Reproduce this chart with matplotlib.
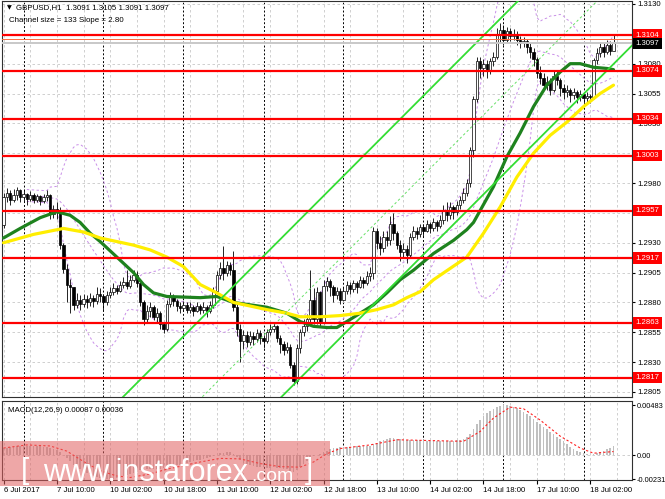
import numpy as np
import pandas as pd
import matplotlib
matplotlib.use("Agg")
import matplotlib.pyplot as plt
from matplotlib.patches import Rectangle
from matplotlib.transforms import blended_transform_factory

plt.rcParams['font.family'] = ['Liberation Sans', 'DejaVu Sans']

# -------------------------------
# GBPUSD H1, bars from 6 Jul 18:00 to 18 Jul 09:00 (8 bars per row)
# -------------------------------
first_open = 1.2945
closes = [
    1.2968, 1.2972, 1.2966, 1.2970, 1.2974, 1.2968, 1.2971, 1.2967,
    1.2970, 1.2966, 1.2969, 1.2965, 1.2968, 1.2970, 1.2954, 1.2958,
    1.2957, 1.2928, 1.2908, 1.2895, 1.2893, 1.2878, 1.2882, 1.2879,
    1.2883, 1.2880, 1.2884, 1.2881, 1.2887, 1.2885, 1.2880, 1.2886,
    1.2889, 1.2892, 1.2890, 1.2895, 1.2897, 1.2894, 1.2899, 1.2903,
    1.2896, 1.2880, 1.2866, 1.2873, 1.2876, 1.2868, 1.2871, 1.2862,
    1.2858, 1.2879, 1.2885, 1.2881, 1.2877, 1.2875, 1.2878, 1.2874,
    1.2876, 1.2873, 1.2877, 1.2874, 1.2876, 1.2873, 1.2878, 1.2890,
    1.2903, 1.2909, 1.2905, 1.2911, 1.2907, 1.2876, 1.2858, 1.2848,
    1.2853, 1.2847, 1.2852, 1.2849, 1.2854, 1.2850, 1.2848, 1.2855,
    1.2858, 1.2860, 1.2850, 1.2845, 1.2840, 1.2843, 1.2828, 1.2814,
    1.2842, 1.2855, 1.2860, 1.2866, 1.2882, 1.2866, 1.2889, 1.2864,
    1.2894, 1.2898, 1.2893, 1.2886, 1.2890, 1.2882, 1.2890, 1.2895,
    1.2891, 1.2896, 1.2893, 1.2899, 1.2896, 1.2902, 1.2905, 1.2940,
    1.2930, 1.2926, 1.2935, 1.2932, 1.2946, 1.2938, 1.2928, 1.2922,
    1.2925, 1.2920, 1.2935, 1.2940, 1.2937, 1.2943, 1.2940, 1.2946,
    1.2942, 1.2947, 1.2944, 1.2949, 1.2957, 1.2953, 1.2960, 1.2956,
    1.2962, 1.2966, 1.2972, 1.2980, 1.3008, 1.3050, 1.3082, 1.3076,
    1.3080, 1.3074, 1.3082, 1.3086, 1.3105, 1.3108, 1.3100, 1.3107,
    1.3103, 1.3105, 1.3100, 1.3097, 1.3099, 1.3094, 1.3090, 1.3084,
    1.3072, 1.3068, 1.3062, 1.3065, 1.3058, 1.3070, 1.3066, 1.3060,
    1.3056, 1.3058, 1.3054, 1.3056, 1.3052, 1.3055, 1.3051, 1.3053,
    1.3052, 1.3083, 1.3089, 1.3094, 1.3090, 1.3096, 1.3091, 1.3097,
]
highs = [
    1.2972, 1.2976, 1.2974, 1.2975, 1.2977, 1.2975, 1.2974, 1.2972,
    1.2973, 1.2972, 1.2971, 1.2970, 1.2971, 1.2974, 1.2971, 1.2962,
    1.2964, 1.2960, 1.2930, 1.2912, 1.2900, 1.2892, 1.2888, 1.2886,
    1.2887, 1.2886, 1.2888, 1.2886, 1.2893, 1.2892, 1.2887, 1.2890,
    1.2893, 1.2896, 1.2895, 1.2898, 1.2901, 1.2907, 1.2903, 1.2907,
    1.2906, 1.2898, 1.2882, 1.2878, 1.2880, 1.2878, 1.2875, 1.2873,
    1.2864, 1.2882, 1.2889, 1.2887, 1.2883, 1.2880, 1.2881, 1.2880,
    1.2880, 1.2878, 1.2880, 1.2879, 1.2880, 1.2878, 1.2881, 1.2893,
    1.2906, 1.2914, 1.2927, 1.2915, 1.2914, 1.2923, 1.2880, 1.2862,
    1.2857, 1.2856, 1.2856, 1.2855, 1.2858, 1.2857, 1.2853, 1.2858,
    1.2862, 1.2864, 1.2861, 1.2853, 1.2848, 1.2847, 1.2845, 1.2830,
    1.2845, 1.2858, 1.2866, 1.2870, 1.2907, 1.2892, 1.2893, 1.2890,
    1.2899, 1.2901, 1.2900, 1.2895, 1.2893, 1.2892, 1.2893, 1.2898,
    1.2897, 1.2899, 1.2898, 1.2902, 1.2901, 1.2906, 1.2910, 1.2943,
    1.2942, 1.2936, 1.2940, 1.2940, 1.2952, 1.2955, 1.2940, 1.2932,
    1.2930, 1.2928, 1.2938, 1.2944, 1.2943, 1.2946, 1.2946, 1.2949,
    1.2947, 1.2951, 1.2949, 1.2953, 1.2962, 1.2964, 1.2964, 1.2962,
    1.2965, 1.2969, 1.2976, 1.2983, 1.3010, 1.3053, 1.3086, 1.3086,
    1.3084, 1.3083, 1.3085, 1.3090, 1.3110, 1.3114, 1.3112, 1.3111,
    1.3110, 1.3109, 1.3107, 1.3103, 1.3102, 1.3101, 1.3097, 1.3093,
    1.3086, 1.3078, 1.3072, 1.3070, 1.3068, 1.3074, 1.3075, 1.3068,
    1.3063, 1.3062, 1.3060, 1.3060, 1.3058, 1.3058, 1.3056, 1.3056,
    1.3055, 1.3085, 1.3093, 1.3098, 1.3097, 1.3100, 1.3099, 1.3105,
]
lows = [
    1.2942, 1.2964, 1.2962, 1.2964, 1.2966, 1.2964, 1.2965, 1.2962,
    1.2965, 1.2963, 1.2964, 1.2962, 1.2963, 1.2965, 1.2950, 1.2951,
    1.2950, 1.2925, 1.2905, 1.2880, 1.2871, 1.2874, 1.2875, 1.2874,
    1.2876, 1.2875, 1.2877, 1.2876, 1.2879, 1.2880, 1.2874, 1.2878,
    1.2884, 1.2886, 1.2887, 1.2889, 1.2892, 1.2891, 1.2892, 1.2897,
    1.2893, 1.2877, 1.2861, 1.2863, 1.2868, 1.2865, 1.2864, 1.2858,
    1.2854, 1.2856, 1.2876, 1.2877, 1.2873, 1.2871, 1.2873, 1.2871,
    1.2871, 1.2869, 1.2872, 1.2870, 1.2871, 1.2868, 1.2871, 1.2875,
    1.2888, 1.2900, 1.2899, 1.2902, 1.2903, 1.2873, 1.2852, 1.2830,
    1.2841, 1.2843, 1.2844, 1.2844, 1.2847, 1.2845, 1.2842, 1.2846,
    1.2853, 1.2855, 1.2847, 1.2838, 1.2836, 1.2838, 1.2825, 1.2811,
    1.2812, 1.2838, 1.2852, 1.2856, 1.2863, 1.2862, 1.2862, 1.2860,
    1.2862, 1.2890, 1.2885, 1.2880, 1.2883, 1.2879, 1.2881, 1.2887,
    1.2887, 1.2889, 1.2888, 1.2892, 1.2892, 1.2895, 1.2898, 1.2900,
    1.2925, 1.2920, 1.2922, 1.2927, 1.2928, 1.2932, 1.2925, 1.2915,
    1.2918, 1.2913, 1.2918, 1.2932, 1.2933, 1.2935, 1.2935, 1.2939,
    1.2938, 1.2940, 1.2940, 1.2942, 1.2946, 1.2948, 1.2950, 1.2950,
    1.2953, 1.2958, 1.2963, 1.2969, 1.2977, 1.3002, 1.3048, 1.3068,
    1.3070, 1.3068, 1.3071, 1.3078, 1.3084, 1.3098, 1.3096, 1.3098,
    1.3099, 1.3100, 1.3096, 1.3093, 1.3094, 1.3089, 1.3085, 1.3078,
    1.3068, 1.3063, 1.3058, 1.3058, 1.3054, 1.3056, 1.3062, 1.3053,
    1.3050, 1.3052, 1.3048, 1.3050, 1.3047, 1.3049, 1.3046, 1.3048,
    1.3047, 1.3050, 1.3080, 1.3086, 1.3086, 1.3088, 1.3087, 1.3091,
]
# H1 forex bars open at the previous close
opens = [first_open] + closes[:-1]

# moving averages (bar index, price)
green_bars = [0, 5, 11, 16, 20, 23, 26, 29, 34, 39, 42, 45, 49, 59, 64, 69, 79, 85, 89,
              93, 97, 100, 103, 107, 111, 115, 119, 123, 129, 135, 139, 141, 143, 147,
              151, 155, 159, 163, 167, 170, 173, 177, 181, 183]
green_ma = [1.2934, 1.2942, 1.2951, 1.2956, 1.2953, 1.2947, 1.2938, 1.2931, 1.2918, 1.2905,
            1.2895, 1.2888, 1.2885, 1.2884, 1.2885, 1.2880, 1.2876, 1.2871, 1.2864,
            1.2860, 1.2859, 1.2859, 1.2864, 1.2871, 1.2878, 1.2888, 1.2899, 1.2907,
            1.2921, 1.2932, 1.2941, 1.2947, 1.2957, 1.2977, 1.3002, 1.3022, 1.3044,
            1.3062, 1.3073, 1.3080, 1.3080, 1.3077, 1.3076, 1.3075]
yellow_bars = [0, 9, 18, 24, 29, 39, 44, 49, 54, 59, 64, 69, 74, 79, 85, 89, 95, 101, 107,
               112, 117, 121, 125, 129, 139, 144, 149, 154, 159, 164, 169, 174, 179, 183]
yellow_ma = [1.2930, 1.2937, 1.2942, 1.2939, 1.2934, 1.2928, 1.2924, 1.2918, 1.2910,
             1.2895, 1.2888, 1.2880, 1.2877, 1.2874, 1.2871, 1.2868, 1.2868, 1.2869,
             1.2871, 1.2874, 1.2878, 1.2884, 1.2889, 1.2899, 1.2918, 1.2938, 1.2960,
             1.2985, 1.3005, 1.3020, 1.3031, 1.3044, 1.3055, 1.3062]

# regression channel: size 133 pips, slope 2.80 pips per bar
channel_bars = [0, 189]
channel_mid = [1.2634, 1.3163]
channel_half = 0.00665

levels = [1.3104, 1.3074, 1.3034, 1.3003, 1.2957, 1.2917, 1.2863, 1.2817]
bid = 1.3097
price_ticks = [1.2805, 1.2830, 1.2855, 1.2880, 1.2905, 1.2930, 1.2955, 1.2980,
               1.3005, 1.3030, 1.3055, 1.3080, 1.3105, 1.3130]
# these tick labels sit fully under a level box on the chart
hidden_ticks = [1.2955, 1.3005, 1.3105]

# MACD main (x 1e-5), one value per bar
macd_main = [
    70, 75, 80, 84, 87, 89, 90, 90,
    90, 89, 87, 85, 83, 80, 75, 65,
    50, 30, 5, -30, -60, -90, -115, -135,
    -155, -170, -185, -196, -206, -215, -222, -228,
    -231, -228, -222, -215, -205, -195, -183, -170,
    -157, -147, -141, -137, -135, -133, -131, -129,
    -126, -121, -113, -106, -98, -90, -82, -74,
    -66, -58, -50, -42, -35, -28, -20, -10,
    5, 18, 25, 30, 28, 15, -15, -45,
    -70, -85, -95, -104, -110, -115, -118, -120,
    -120, -118, -120, -124, -128, -135, -148, -160,
    -140, -112, -85, -58, -30, -10, 5, 15,
    30, 45, 60, 70, 75, 78, 80, 82,
    84, 85, 86, 87, 87, 87, 88, 105,
    120, 135, 150, 160, 167, 167, 162, 155,
    150, 148, 148, 147, 146, 145, 143, 140,
    138, 137, 136, 135, 135, 136, 138, 140,
    145, 150, 160, 175, 205, 250, 300, 340,
    375, 405, 430, 450, 465, 475, 483, 483,
    478, 468, 455, 440, 420, 398, 375, 350,
    325, 300, 275, 250, 228, 205, 180, 160,
    138, 105, 80, 60, 45, 30, 18, 10,
    3, 12, 25, 35, 45, 60, 75, 87,
]
signal_bars = [0, 7, 14, 19, 24, 29, 34, 38, 44, 49, 59, 65, 71, 77, 83, 89, 93, 97, 101,
               110, 118, 128, 138, 143, 147, 152, 156, 161, 167, 173, 177, 183]
signal_vals = [70, 100, 90, 40, -60, -150, -200, -215, -180, -135, -65, -30, -35, -80,
               -110, -115, -65, 15, 65, 100, 150, 142, 135, 230, 360, 465, 450, 340,
               185, 70, 20, 36]

date_ticks = list(range(0, 177, 16))
date_labels = ["6 Jul 2017", "7 Jul 10:00", "10 Jul 02:00", "10 Jul 18:00", "11 Jul 10:00",
               "12 Jul 02:00", "12 Jul 18:00", "13 Jul 10:00", "14 Jul 02:00",
               "14 Jul 18:00", "17 Jul 10:00", "18 Jul 02:00"]
day_starts = list(range(6, 184, 24))

# -------------------------------
# Figure
# -------------------------------
W, H = 665, 499
fig = plt.figure(figsize=(W / 100, H / 100), dpi=100)
ax = fig.add_axes([2 / W, 1 - 397 / H, 630 / W, 396 / H])
ax2 = fig.add_axes([2 / W, 1 - 480 / H, 630 / W, 79 / H])

xlim = (-0.45, 188.55)
grid_kw = dict(color='#c8c8c8', lw=0.6, dashes=(3, 3), zorder=0)
sep_kw = dict(color='black', lw=0.7, dashes=(2, 2), zorder=0)
for a in (ax, ax2):
    a.set_xlim(*xlim)
    for b in range(0, 189, 8):
        a.axvline(b, **grid_kw)
    for b in day_starts:
        a.axvline(b, **sep_kw)
    for s in a.spines.values():
        s.set_color('#303030')
        s.set_linewidth(0.8)

# main panel
ax.set_ylim(1.28008, 1.31325)
for p in price_ticks:
    ax.axhline(p, **grid_kw)

x = np.arange(len(closes))
o = np.array(opens)
c = np.array(closes)
body_lo = np.minimum(o, c)
body_hi = np.maximum(o, c)
wick_lo = np.minimum(np.array(lows), body_lo)
wick_hi = np.maximum(np.array(highs), body_hi)
height = np.maximum(body_hi - body_lo, 0.00002)
up = c >= o
ax.vlines(x, wick_lo, wick_hi, color='black', lw=0.6, zorder=3)
ax.bar(x[up], height[up], bottom=body_lo[up], width=0.62, color='white',
       edgecolor='black', lw=0.5, zorder=3.5)
ax.bar(x[~up], height[~up], bottom=body_lo[~up], width=0.62, color='black',
       edgecolor='black', lw=0.5, zorder=3.5)

# bollinger bands (20, 2) on the closes
cs = pd.Series(closes)
bb_mid = cs.rolling(20, min_periods=8).mean()
bb_sd = cs.rolling(20, min_periods=8).std(ddof=0)
for band in (bb_mid, bb_mid + 2 * bb_sd, bb_mid - 2 * bb_sd):
    ax.plot(x, band, color='#c98fe8', lw=0.7, dashes=(2.5, 2.5), zorder=2)

ax.plot(green_bars, green_ma, color='#1e821e', lw=2.3, zorder=4, solid_capstyle='round')
ax.plot(yellow_bars, yellow_ma, color='#ffee00', lw=2.3, zorder=4, solid_capstyle='round')

cm = np.array(channel_mid)
ax.plot(channel_bars, cm + channel_half, color='#33dd33', lw=1.3, zorder=4)
ax.plot(channel_bars, cm - channel_half, color='#33dd33', lw=1.3, zorder=4)
ax.plot(channel_bars, cm, color='#66e066', lw=0.7, dashes=(2.5, 2.5), zorder=4)

for lvl in levels:
    ax.axhline(lvl, color='#ff0000', lw=1.6, zorder=5)
ax.axhline(bid, color='#c8c8c8', lw=1.4, zorder=4.5)
ax.axhline(1.31004, color='#ff6a3d', lw=0.7, zorder=4.5)

ax.yaxis.tick_right()
ax.set_yticks(price_ticks)
ax.set_yticklabels(["" if p in hidden_ticks else f"{p:.4f}" for p in price_ticks])
ax.tick_params(axis='y', length=2, pad=2, labelsize=5.6, colors='black')
ax.tick_params(axis='x', bottom=False, labelbottom=False)

tr = blended_transform_factory(ax.transAxes, ax.transData)
for lvl in levels:
    ax.text(1.006, lvl, f"{lvl:.4f}", transform=tr, color='white', fontsize=5.6,
            va='center', ha='left', clip_on=False, zorder=10,
            bbox=dict(boxstyle='square,pad=0.3', fc='#ff0000', ec='none'))
ax.text(1.006, bid, f"{bid:.4f}", transform=tr, color='white', fontsize=5.6,
        va='center', ha='left', clip_on=False, zorder=10,
        bbox=dict(boxstyle='square,pad=0.3', fc='black', ec='none'))

ax.text(5 / 630, 1 - 7 / 396, "\u25bc", transform=ax.transAxes, fontsize=4.5,
        va='center', ha='left', family=['DejaVu Sans'])
ax.text(14 / 630, 1 - 7 / 396, "GBPUSD,H1  1.3091 1.3105 1.3091 1.3097",
        transform=ax.transAxes, fontsize=5.7, va='center', ha='left')
ax.text(7 / 630, 1 - 19 / 396, "Channel size = 133 Slope = 2.80",
        transform=ax.transAxes, fontsize=5.7, va='center', ha='left')

# MACD panel
ax2.set_ylim(-0.00239, 0.005245)
ax2.axhline(0, **grid_kw)
ax2.bar(x, np.array(macd_main) * 1e-5, width=0.55, color='#c0c0c0', zorder=2)
ax2.plot(signal_bars, np.array(signal_vals) * 1e-5, color='#ff2020', lw=0.8,
         dashes=(2, 2), zorder=3)
ax2.yaxis.tick_right()
ax2.set_yticks([-0.00231, 0.0, 0.00483])
ax2.set_yticklabels(["-0.00231", "0.00", "0.00483"])
ax2.tick_params(axis='y', length=2, pad=1.2, labelsize=5.3)
ax2.set_xticks(date_ticks)
ax2.set_xticklabels(date_labels, ha='left')
ax2.tick_params(axis='x', length=3, pad=2, labelsize=5.6)
ax2.text(6 / 630, 1 - 9 / 79, "MACD(12,26,9) 0.00087 0.00036", transform=ax2.transAxes,
         fontsize=5.7, va='center', ha='left')

# watermark
fig.patches.append(Rectangle((0, 1 - 486 / H), 330 / W, 45 / H, transform=fig.transFigure,
                             fc='#e06060', ec='none', alpha=0.55, zorder=5))
base = 1 - 481 / H
fig.text(21 / W, base + 2 / H, "[", color='white', fontsize=21, va='baseline', ha='left', zorder=6)
fig.text(43 / W, base, "www.instaforex", color='white', fontsize=22, va='baseline',
         ha='left', zorder=6)
fig.text(251 / W, base, ".com", color='white', fontsize=14, va='baseline', ha='left', zorder=6)
fig.text(305 / W, base + 2 / H, "]", color='white', fontsize=21, va='baseline', ha='left', zorder=6)

fig.savefig("out.png", dpi=100)
